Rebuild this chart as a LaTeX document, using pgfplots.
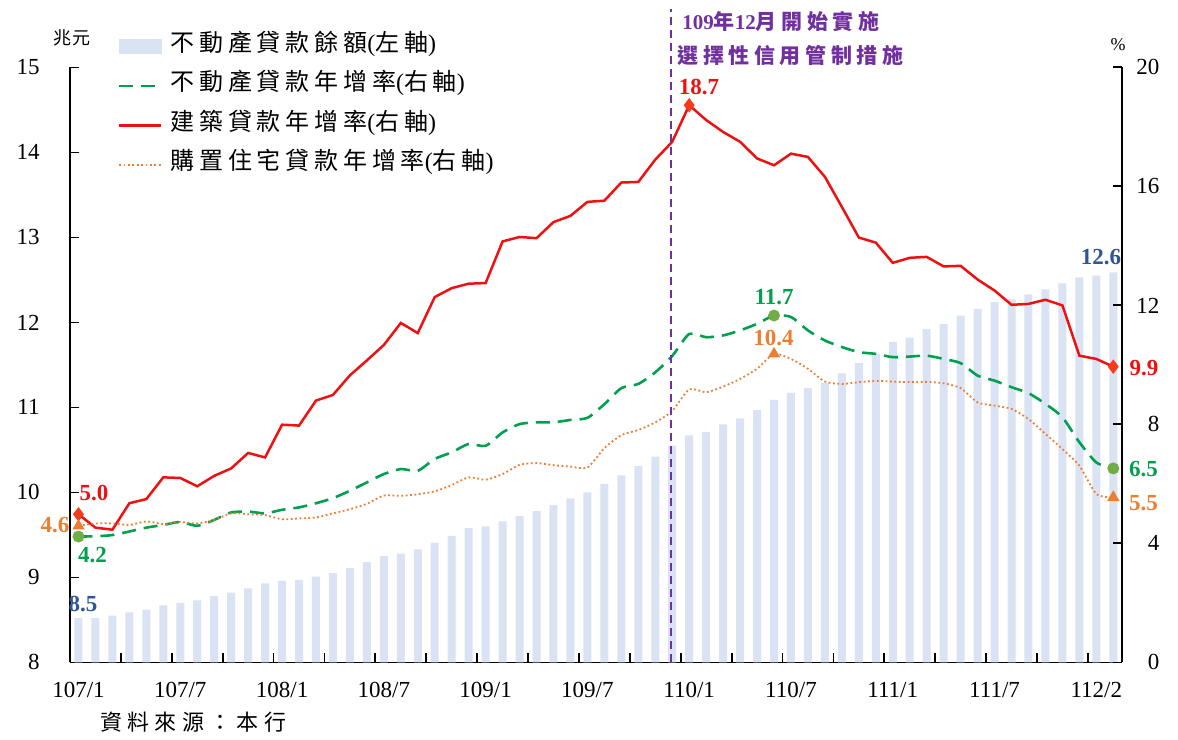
\documentclass[border=0pt]{standalone}
\usepackage{pgfplots}
\pgfplotsset{compat=1.18}
\usepackage{pgfplotstable}
\usepackage{fontspec}
\setmainfont{Liberation Serif}
\newfontfamily\cjk[LetterSpace=20]{Noto Sans CJK TC}
\newfontfamily\cjkann[LetterSpace=22]{Noto Sans CJK TC}
\newfontfamily\cjksrc[LetterSpace=24]{Noto Sans CJK TC}
\newfontfamily\cjkunit[LetterSpace=10]{Noto Sans CJK TC}

\definecolor{barblue}{HTML}{DAE3F3}
\definecolor{redline}{HTML}{EE1111}
\definecolor{redmark}{HTML}{F53A1B}
\definecolor{greenline}{HTML}{00A04F}
\definecolor{greenmark}{HTML}{70AD47}
\definecolor{orangeline}{HTML}{ED7D31}
\definecolor{purpleann}{HTML}{7030A0}
\definecolor{labelblue}{HTML}{2F5597}

\pgfplotstableread{
i bal gr cr hr
0 8.52 4.23 4.98 4.59
1 8.52 4.24 4.53 4.67
2 8.55 4.28 4.46 4.67
3 8.59 4.40 5.35 4.62
4 8.62 4.53 5.49 4.74
5 8.67 4.62 6.22 4.65
6 8.70 4.72 6.20 4.72
7 8.73 4.59 5.92 4.67
8 8.78 4.79 6.27 4.79
9 8.82 5.04 6.52 5.01
10 8.87 5.07 7.04 4.98
11 8.93 5.01 6.89 4.95
12 8.96 5.13 7.99 4.81
13 8.97 5.21 7.96 4.84
14 9.01 5.35 8.80 4.87
15 9.05 5.52 8.99 5.01
16 9.11 5.77 9.65 5.15
17 9.18 6.05 10.15 5.33
18 9.25 6.33 10.67 5.61
19 9.28 6.50 11.41 5.60
20 9.33 6.44 11.07 5.65
21 9.41 6.84 12.28 5.75
22 9.49 7.06 12.58 5.96
23 9.58 7.34 12.73 6.22
24 9.60 7.28 12.75 6.14
25 9.66 7.73 14.15 6.33
26 9.72 8.01 14.30 6.64
27 9.78 8.07 14.26 6.70
28 9.85 8.07 14.80 6.63
29 9.93 8.15 15.01 6.58
30 10.00 8.22 15.48 6.55
31 10.10 8.68 15.52 7.20
32 10.20 9.22 16.13 7.64
33 10.31 9.36 16.15 7.81
34 10.42 9.75 16.90 8.07
35 10.55 10.30 17.50 8.45
36 10.67 11.04 18.73 9.18
37 10.71 10.93 18.23 9.08
38 10.80 10.99 17.83 9.27
39 10.87 11.16 17.50 9.53
40 10.97 11.38 16.94 9.87
41 11.09 11.66 16.71 10.37
42 11.17 11.61 17.10 10.20
43 11.23 11.16 16.99 9.87
44 11.29 10.82 16.32 9.44
45 11.40 10.60 15.31 9.36
46 11.52 10.43 14.28 9.42
47 11.63 10.37 14.11 9.46
48 11.77 10.26 13.43 9.44
49 11.82 10.28 13.60 9.42
50 11.92 10.31 13.63 9.43
51 11.98 10.20 13.31 9.38
52 12.08 10.06 13.33 9.22
53 12.16 9.64 12.87 8.74
54 12.24 9.47 12.50 8.63
55 12.27 9.25 12.02 8.52
56 12.33 9.05 12.05 8.18
57 12.39 8.69 12.19 7.68
58 12.46 8.24 12.00 7.17
59 12.53 7.40 10.31 6.61
60 12.55 6.72 10.20 5.66
61 12.59 6.52 9.94 5.55
}\data

\begin{document}
\begin{tikzpicture}
\path[use as bounding box] (-35pt,-38.3pt) rectangle (554pt,331.2pt);

% left axis: bars
\begin{axis}[
  at={(0,0)}, anchor=south west,
  width=525.9pt, height=297.5pt, scale only axis,
  xmin=-0.5, xmax=61.5, ymin=8, ymax=15,
  axis x line*=bottom, axis y line*=left,
  axis line style={-, line width=0.9pt, black},
  ytick={8,9,...,15},
  xtick={2.5,5.5,...,59.5}, xticklabels={},
  extra x ticks={0,6,...,60},
  extra x tick labels={107/1,107/7,108/1,108/7,109/1,109/7,110/1,110/7,111/1,111/7,112/2},
  extra x tick style={major tick length=0pt},
  tick align=inside, major tick length=4.5pt,
  tick style={black, line width=0.9pt},
  /pgf/number format/assume math mode=true,
  ticklabel style={font=\fontsize{11.5}{13}\selectfont},
  yticklabel style={anchor=east, inner sep=0pt, xshift=-15pt},
  xticklabel style={anchor=base, inner sep=0pt, yshift=-17.5pt},
]
\addplot[ybar, bar width=4pt, fill=barblue, draw=none] table[x=i, y=bal] {\data};
\end{axis}

% right axis: growth rates
\begin{axis}[
  at={(0,0)}, anchor=south west,
  width=525.9pt, height=297.5pt, scale only axis,
  xmin=-0.5, xmax=61.5, ymin=0, ymax=20,
  axis y line*=right, axis x line=none,
  axis line style={-, line width=0.9pt, black},
  ytick={0,4,...,20},
  tick align=inside, major tick length=4.5pt,
  tick style={black, line width=0.9pt},
  /pgf/number format/assume math mode=true,
  ticklabel style={font=\fontsize{11.5}{13}\selectfont},
  yticklabel style={anchor=east, inner sep=0pt, xshift=19pt},
  clip=false,
  legend cell align=left,
  legend style={at={(0.0456,1.052)}, anchor=north west, draw=none, fill=none,
    inner sep=0pt, outer sep=0pt, row sep=9.7pt, column sep=4pt,
    font=\fontsize{12}{14}\selectfont,
    nodes={inner sep=0pt, text height=7.5pt, text depth=2.5pt}},
]
\addlegendimage{legend image code/.code={\fill[barblue] (0pt,-3.5pt) rectangle (21pt,3.5pt);}}
\addlegendentry{{\cjk 不動產貸款餘額}({\cjk 左軸})}

\addplot[greenline, line width=1.3pt, dash pattern=on 7pt off 4pt, smooth, tension=0.4,
  mark=*, mark size=2.3pt, mark indices={1,42,62},
  mark options={solid, fill=greenmark, draw=greenmark},
  legend image code/.code={\draw[greenline, line width=1.3pt, dash pattern=on 7pt off 4pt] (0pt,0pt) -- (21pt,0pt);}]
  table[x=i, y=gr] {\data};
\addlegendentry{{\cjk 不動產貸款年增率}({\cjk 右軸})}

\addplot[redline, line width=1.25pt,
  mark=diamond*, mark size=2.6pt, mark indices={1,37,62},
  mark options={solid, fill=redmark, draw=redmark},
  legend image code/.code={\draw[redline, line width=1.25pt] (0pt,0pt) -- (21pt,0pt);}]
  table[x=i, y=cr] {\data};
\addlegendentry{{\cjk 建築貸款年增率}({\cjk 右軸})}

\addplot[orangeline, line width=0.9pt, dash pattern=on 0.9pt off 1.3pt, smooth, tension=0.4,
  mark=triangle*, mark size=2.6pt, mark indices={1,42,62},
  mark options={solid, fill=orangeline, draw=orangeline},
  legend image code/.code={\draw[orangeline, line width=0.9pt, dash pattern=on 0.9pt off 1.3pt] (0pt,0pt) -- (21pt,0pt);}]
  table[x=i, y=hr] {\data};
\addlegendentry{{\cjk 購置住宅貸款年增率}({\cjk 右軸})}

\draw[purpleann, line width=1.1pt, dash pattern=on 4pt off 2.5pt] (axis cs:34.95,0) -- (axis cs:34.95,21.95);
\end{axis}

% annotation and units
\node[anchor=west, inner sep=0pt, text=purpleann, font=\fontsize{10.5}{12}\selectfont\bfseries] at (306pt,320.2pt) {109{\cjkann 年}12{\cjkann 月開始實施}};
\node[anchor=west, inner sep=0pt, text=purpleann, font=\fontsize{10.5}{12}\selectfont\bfseries] at (303.5pt,303.7pt) {\cjkann 選擇性信用管制措施};
\node[inner sep=0pt, font=\fontsize{9}{11}\selectfont] at (1pt,312.2pt) {\cjkunit 兆元};
\node[inner sep=0pt, font=\fontsize{9}{11}\selectfont] at (524pt,308.7pt) {\%};
\node[anchor=west, inner sep=0pt, font=\fontsize{11}{13}\selectfont] at (15pt,-29.9pt) {\cjksrc 資料來源：本行};

% data labels
\begin{scope}[every node/.style={inner sep=0pt, font=\fontsize{11.5}{13}\selectfont\bfseries}]
\node[text=redline] at (12pt,84.7pt) {5.0};
\node[text=orangeline] at (-7.5pt,68.7pt) {4.6};
\node[text=greenline] at (11.3pt,53.7pt) {4.2};
\node[text=labelblue] at (6.5pt,29.2pt) {8.5};
\node[text=redline] at (314.5pt,287.7pt) {18.7};
\node[text=greenline] at (352pt,182.7pt) {11.7};
\node[text=orangeline] at (351.8pt,162.2pt) {10.4};
\node[text=labelblue] at (515.5pt,202.7pt) {12.6};
\node[text=redline] at (537pt,147.2pt) {9.9};
\node[text=greenline] at (536.8pt,96.7pt) {6.5};
\node[text=orangeline] at (536.8pt,79.7pt) {5.5};
\end{scope}
\end{tikzpicture}
\end{document}
